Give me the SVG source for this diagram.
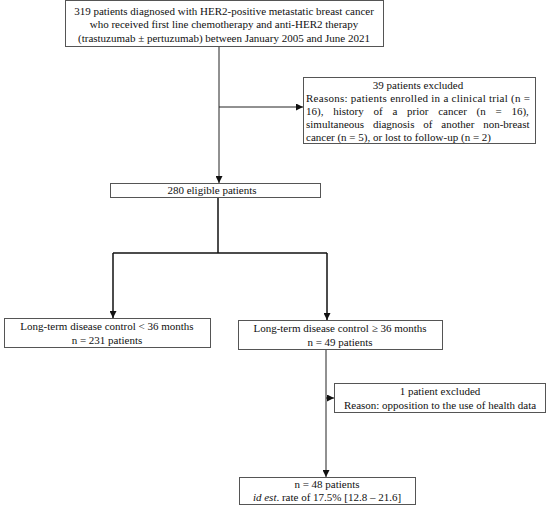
<svg xmlns="http://www.w3.org/2000/svg" width="550" height="509" viewBox="0 0 550 509">
<style>
.box{fill:#fff;stroke:#555;stroke-width:1}
.t{font-family:"Liberation Serif","Times New Roman",serif;font-size:11px;fill:#111}
.c{text-anchor:middle}
.ln{fill:none;stroke:#222;stroke-width:1}
.lb{fill:none;stroke:#111;stroke-width:1.5}
</style>
<defs>
<marker id="ah" viewBox="0 0 10 10" refX="10" refY="5" markerWidth="7" markerHeight="7" markerUnits="userSpaceOnUse" orient="auto">
<path d="M0,0 L10,5 L0,10 z" fill="#111"/>
</marker>
</defs>
<rect width="550" height="509" fill="#fff"/>
<g id="connectors">
<path class="ln" d="M219,47 V183" marker-end="url(#ah)"/>
<path class="ln" d="M219,107 H303" marker-end="url(#ah)"/>
<path class="lb" d="M218,197 V253"/>
<path class="lb" d="M113,253 H327"/>
<path class="lb" d="M113,253 V318" marker-end="url(#ah)"/>
<path class="lb" d="M327,253 V320" marker-end="url(#ah)"/>
<path class="ln" d="M326,350 V477" marker-end="url(#ah)"/>
<path class="ln" d="M326,398 H334" marker-end="url(#ah)"/>
</g>
<g id="n1">
<rect class="box" x="65.5" y="0.5" width="318" height="46"/>
<text class="t c" x="224" y="15">319 patients diagnosed with HER2-positive metastatic breast cancer</text>
<text class="t c" x="224" y="28">who received first line chemotherapy and anti-HER2 therapy</text>
<text class="t c" x="224" y="42">(trastuzumab ± pertuzumab) between January 2005 and June 2021</text>
</g>
<g id="n2">
<rect class="box" x="303.5" y="77.5" width="232" height="66"/>
<text class="t c" x="418" y="89">39 patients excluded</text>
<text class="t" x="306" y="102" textLength="224" lengthAdjust="spacing">Reasons: patients enrolled in a clinical trial (n =</text>
<text class="t" x="306" y="115" word-spacing="7">16), history of a prior cancer (n = 16),</text>
<text class="t" x="306" y="128" word-spacing="6.1">simultaneous diagnosis of another non-breast</text>
<text class="t" x="306" y="141">cancer (n = 5), or lost to follow-up (n = 2)</text>
</g>
<g id="n3">
<rect class="box" x="110.5" y="183.5" width="210" height="14"/>
<text class="t c" x="212" y="194">280 eligible patients</text>
</g>
<g id="n4">
<rect class="box" x="4.5" y="318.5" width="206" height="29"/>
<text class="t c" x="107" y="330">Long-term disease control &lt; 36 months</text>
<text class="t c" x="107" y="344">n = 231 patients</text>
</g>
<g id="n5">
<rect class="box" x="238.5" y="320.5" width="204" height="29"/>
<text class="t c" x="340" y="332">Long-term disease control ≥ 36 months</text>
<text class="t c" x="340" y="346">n = 49 patients</text>
</g>
<g id="n6">
<rect class="box" x="334.5" y="383.5" width="211" height="29"/>
<text class="t c" x="440" y="395">1 patient excluded</text>
<text class="t c" x="440" y="409">Reason: opposition to the use of health data</text>
</g>
<g id="n7">
<rect class="box" x="239.5" y="477.5" width="176" height="27"/>
<text class="t c" x="327" y="488">n = 48 patients</text>
<text class="t c" x="327" y="501"><tspan font-style="italic">id est</tspan>. rate of 17.5% [12.8 – 21.6]</text>
</g>
</svg>
